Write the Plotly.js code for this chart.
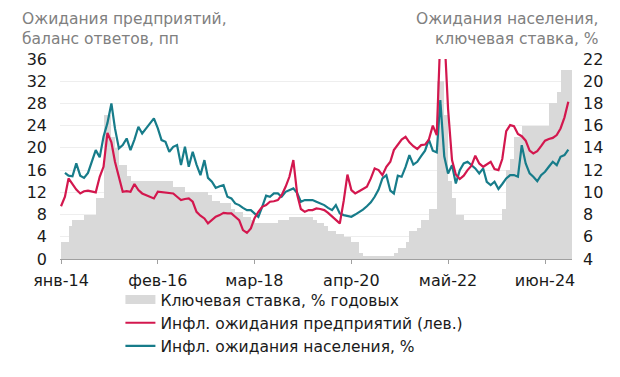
<!DOCTYPE html>
<html>
<head>
<meta charset="utf-8">
<script src="https://cdn.plot.ly/plotly-3.0.1.min.js"></script>
<style>html,body{margin:0;padding:0;background:#fff;}#chart{width:620px;height:377px;}</style>
</head>
<body>
<div id="chart"></div>
<script>
// Monthly observations, Jan 2014 – Dec 2024
const startYear = 2014;
const monthCount = 132;

// Key rate, % (right axis), end of month
const keyRate = [
  5.5, 5.5, 7, 7.5, 7.5, 7.5, 8, 8, 8, 9.5, 9.5, 17,
  17, 15, 14, 12.5, 12.5, 11.5, 11, 11, 11, 11, 11, 11,
  11, 11, 11, 11, 11, 10.5, 10.5, 10.5, 10, 10, 10, 10,
  10, 10, 9.75, 9.25, 9.25, 9, 9, 9, 8.5, 8.25, 8.25, 7.75,
  7.75, 7.5, 7.25, 7.25, 7.25, 7.25, 7.25, 7.25, 7.5, 7.5, 7.5, 7.75,
  7.75, 7.75, 7.75, 7.75, 7.75, 7.5, 7.25, 7.25, 7, 6.5, 6.5, 6.25,
  6.25, 6, 6, 5.5, 5.5, 4.5, 4.25, 4.25, 4.25, 4.25, 4.25, 4.25,
  4.25, 4.25, 4.5, 5, 5, 5.5, 6.5, 6.5, 6.75, 7.5, 7.5, 8.5,
  8.5, 20, 20, 17, 11, 9.5, 8, 8, 7.5, 7.5, 7.5, 7.5,
  7.5, 7.5, 7.5, 7.5, 7.5, 7.5, 8.5, 12, 13, 15, 15, 16,
  16, 16, 16, 16, 16, 16, 18, 18, 19, 21, 21, 21
];

// Firms' inflation expectations, balance of answers, pp (left axis)
const firmExp = [
  9.5, 11.2, 14.5, 13.5, 12.5, 11.8, 12.2, 12.3, 12.1, 12.0, 14.8, 16.6,
  22.7, 21.0, 17.5, 14.5, 12.1, 12.2, 12.1, 13.5, 12.4, 11.8, 11.5, 11.2,
  10.9, 12.1, 12.0, 11.9, 11.8, 11.8, 11.2, 10.6, 10.8, 10.9, 10.3, 8.5,
  7.8, 7.3, 6.4, 7.0, 7.6, 7.9, 8.3, 8.2, 8.2, 7.6, 7.0, 5.2,
  4.7, 5.5, 7.3, 8.5, 9.4, 9.7, 10.3, 10.4, 10.6, 11.5, 13.0, 14.8,
  17.8, 11.5, 9.0, 8.5, 8.8, 8.8, 9.1, 9.0, 8.8, 8.3, 7.6, 7.0,
  6.4, 10.5, 15.2, 12.4, 11.8, 12.2, 12.6, 13.0, 14.5, 16.3, 16.0, 15.1,
  16.6, 17.5, 19.6, 20.6, 21.5, 22.0, 21.0, 20.3, 19.8, 20.5, 20.6, 21.5,
  24.0, 22.3, 40.0, 41.0, 27.0, 17.8, 15.2, 14.4, 15.0, 16.0, 16.8, 18.6,
  17.2, 16.6, 17.0, 17.5, 16.2, 16.0, 18.0, 23.0, 24.1, 23.9, 22.5, 22.1,
  21.3, 19.5, 19.0, 19.4, 20.3, 21.3, 21.6, 21.8, 22.3, 23.5, 25.5, 28.3
];

// Households' inflation expectations, % (right axis)
const houseExp = [
  null, 11.75, 11.5, 11.45, 12.6, 11.5, 11.3, 11.75, 12.75, 13.8, 13.15, 15.0,
  16.25, 18.0, 15.75, 13.95, 14.25, 14.85, 13.8, 14.75, 15.9, 15.3, 15.75, 16.2,
  16.65, 15.75, 14.7, 14.55, 13.65, 14.1, 14.25, 12.45, 14.1, 12.3, 13.65, 12.5,
  11.55, 12.9, 11.3, 10.95, 10.4, 10.55, 10.65, 9.6, 9.45, 9.0, 8.85, 8.6,
  8.4, 8.4, 8.1, 7.8, 8.7, 9.7, 9.6, 9.9, 9.9, 9.6, 10.05, 10.2,
  10.35, 9.9, 9.15, 9.3, 9.3, 9.3, 9.15, 9.0, 8.85, 8.6, 8.4, 8.85,
  8.1, 7.95, 7.85, 7.8, 8.0, 8.2, 8.45, 8.75, 9.1, 9.6, 10.25, 11.25,
  11.55, 10.15, 9.9, 11.5, 11.4, 12.3, 13.35, 12.5, 12.75, 13.25, 13.75, 14.75,
  13.75, 13.6, 18.3, 13.25, 11.7, 12.45, 10.8, 12.0, 12.6, 12.75, 12.45, 12.15,
  11.7, 12.15, 10.95, 10.65, 10.95, 10.3, 10.75, 11.25, 11.55, 11.55, 11.4, 14.25,
  12.6, 11.7, 11.4, 11.0, 11.55, 11.85, 12.3, 12.75, 12.45, 13.2, 13.35, 13.85
];

const tickDates = ['2014-01-01', '2016-02-01', '2018-03-01', '2020-04-01', '2022-05-01', '2024-06-01'];
const tickLabels = ['янв-14', 'фев-16', 'мар-18', 'апр-20', 'май-22', 'июн-24'];

const months = [];
for (let i = 0; i < monthCount; i++) {
  const y = startYear + Math.floor(i / 12);
  const m = (i % 12) + 1;
  months.push(y + '-' + (m < 10 ? '0' + m : m) + '-01');
}

const FONT = 'DejaVu Sans, sans-serif';
const DAY = 86400000;
const BAR_GREY = '#d9d9d9';
const TITLE_FONT = {family: FONT, size: 15.5, color: '#808080'};

const traces = [
  {
    type: 'bar', x: months, y: keyRate, yaxis: 'y',
    name: 'Ключевая ставка, % годовых',
    marker: {color: BAR_GREY, line: {width: 0}},
    offset: 0, width: 31 * DAY,
    showlegend: false, hoverinfo: 'skip'
  },
  {
    // legend entry for the key-rate bars (wide grey swatch)
    type: 'scatter', mode: 'lines', x: [null], y: [null], yaxis: 'y',
    name: 'Ключевая ставка, % годовых',
    line: {color: BAR_GREY, width: 9}
  },
  {
    type: 'scatter', mode: 'lines', x: months, y: firmExp, yaxis: 'y2',
    name: 'Инфл. ожидания предприятий (лев.)',
    line: {color: '#d3174e', width: 2.2}
  },
  {
    type: 'scatter', mode: 'lines', x: months, y: houseExp, yaxis: 'y',
    name: 'Инфл. ожидания населения, %',
    line: {color: '#177c8a', width: 2.2}
  }
];

const layout = {
  width: 620, height: 377,
  margin: {l: 60, r: 48, t: 59, b: 118, pad: 0},
  paper_bgcolor: '#fff', plot_bgcolor: '#fff',
  font: {family: FONT, color: '#1a1a1a', size: 16},
  showlegend: true,
  bargap: 0,
  xaxis: {
    type: 'date',
    range: ['2013-12-24', '2024-12-30'],
    tickmode: 'array', tickvals: tickDates, ticktext: tickLabels,
    ticks: 'outside', ticklen: 4, tickcolor: '#a0a0a0', tickwidth: 1,
    showline: true, linecolor: '#a0a0a0', linewidth: 1,
    showgrid: false, zeroline: false,
    tickfont: {family: FONT, size: 16, color: '#1a1a1a'},
    ticklabelstandoff: 3
  },
  yaxis: {
    side: 'right',
    range: [4, 22], dtick: 2, tick0: 4,
    showgrid: true, gridcolor: '#eeeeee', gridwidth: 1,
    zeroline: false, showline: false, ticks: '',
    tickfont: {family: FONT, size: 16, color: '#1a1a1a'},
    ticklabelstandoff: 10
  },
  yaxis2: {
    overlaying: 'y', side: 'left',
    range: [0, 36], dtick: 4, tick0: 0,
    showgrid: false, zeroline: false, showline: false, ticks: '',
    tickfont: {family: FONT, size: 16, color: '#1a1a1a'},
    ticklabelstandoff: 12
  },
  legend: {
    orientation: 'v',
    x: 0.118, xanchor: 'left',
    y: -0.12, yanchor: 'top',
    bgcolor: 'rgba(0,0,0,0)', borderwidth: 0,
    font: {family: FONT, size: 15.5, color: '#1a1a1a'},
    itemwidth: 30, tracegroupgap: 0,
    traceorder: 'normal'
  },
  annotations: [
    {
      xref: 'paper', yref: 'paper', x: -0.078, y: 1.2,
      xanchor: 'left', yanchor: 'middle', align: 'left', showarrow: false,
      text: 'Ожидания предприятий,', font: TITLE_FONT
    },
    {
      xref: 'paper', yref: 'paper', x: -0.078, y: 1.1,
      xanchor: 'left', yanchor: 'middle', align: 'left', showarrow: false,
      text: 'баланс ответов, пп', font: TITLE_FONT
    },
    {
      xref: 'paper', yref: 'paper', x: 1.057, y: 1.2,
      xanchor: 'right', yanchor: 'middle', align: 'right', showarrow: false,
      text: 'Ожидания населения,', font: TITLE_FONT
    },
    {
      xref: 'paper', yref: 'paper', x: 1.057, y: 1.1,
      xanchor: 'right', yanchor: 'middle', align: 'right', showarrow: false,
      text: 'ключевая ставка, %', font: TITLE_FONT
    }
  ]
};

Plotly.newPlot('chart', traces, layout, {displayModeBar: false, staticPlot: true});
</script>
</body>
</html>
